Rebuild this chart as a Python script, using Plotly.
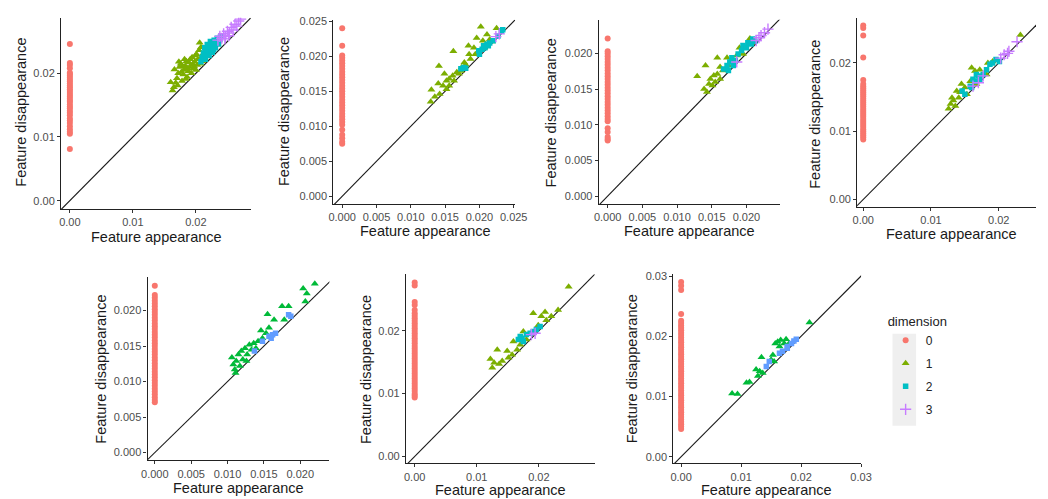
import plotly.graph_objects as go

W, H = 1048, 499

# ---------------- data ----------------
# Panel 1
p1_d0_death = [0.0081, 0.0105, 0.0108, 0.0112, 0.0117, 0.0122, 0.0126, 0.0129, 0.0134, 0.0138,
               0.0141, 0.0145, 0.0148, 0.0151, 0.0155, 0.0157, 0.0160, 0.0163, 0.0166, 0.0169,
               0.0172, 0.0175, 0.0178, 0.0181, 0.0184, 0.0187, 0.0190, 0.0193, 0.0196, 0.0199,
               0.0201, 0.0208, 0.0213, 0.0216, 0.0246]
p1_d1_birth = [0.0165, 0.0168, 0.0170, 0.0172, 0.0174, 0.0176, 0.0178, 0.0180, 0.0181, 0.0183,
               0.0185, 0.0186, 0.0188, 0.0190, 0.0191, 0.0193, 0.0195, 0.0196, 0.0198, 0.0199,
               0.0200, 0.0202, 0.0203, 0.0205, 0.0206, 0.0207, 0.0209, 0.0210, 0.0212, 0.0214,
               0.0171, 0.0177, 0.0184, 0.0189, 0.0194, 0.0201, 0.0163, 0.0187, 0.0197, 0.0208,
               0.0160, 0.0166, 0.0173, 0.0179, 0.0182]
p1_d1_death = [0.0178, 0.0185, 0.0192, 0.0200, 0.0210, 0.0215, 0.0188, 0.0198, 0.0205, 0.0212,
               0.0219, 0.0194, 0.0203, 0.0210, 0.0222, 0.0200, 0.0214, 0.0207, 0.0218, 0.0228,
               0.0205, 0.0213, 0.0222, 0.0236, 0.0248, 0.0215, 0.0226, 0.0219, 0.0231, 0.0224,
               0.0181, 0.0202, 0.0191, 0.0217, 0.0225, 0.0230, 0.0173, 0.0208, 0.0211, 0.0241,
               0.0186, 0.0206, 0.0218, 0.0211, 0.0222]
p1_d2_birth = [0.0208, 0.0210, 0.0212, 0.0214, 0.0215, 0.0217, 0.0218, 0.0220, 0.0221, 0.0223,
               0.0224, 0.0226, 0.0227, 0.0229, 0.0231, 0.0232, 0.0234, 0.0236, 0.0238, 0.0240,
               0.0216, 0.0222, 0.0228, 0.0235]
p1_d2_death = [0.0218, 0.0225, 0.0232, 0.0240, 0.0222, 0.0230, 0.0245, 0.0236, 0.0228, 0.0250,
               0.0240, 0.0233, 0.0246, 0.0252, 0.0240, 0.0248, 0.0255, 0.0246, 0.0253, 0.0258,
               0.0236, 0.0243, 0.0237, 0.0250]
p1_d3_birth = [0.0235, 0.0238, 0.0241, 0.0244, 0.0247, 0.0250, 0.0253, 0.0256, 0.0259, 0.0262,
               0.0265, 0.0268, 0.0271, 0.0246, 0.0252]
p1_d3_death = [0.0252, 0.0258, 0.0255, 0.0262, 0.0258, 0.0266, 0.0263, 0.0272, 0.0268, 0.0277,
               0.0274, 0.0282, 0.0285, 0.0254, 0.0259]

# Panel 2
p2_d0_death = [0.0075, 0.0078, 0.0083, 0.0088, 0.0095, 0.0102, 0.0106, 0.0110, 0.0114, 0.0118,
               0.0122, 0.0126, 0.0130, 0.0134, 0.0138, 0.0142, 0.0146, 0.0150, 0.0154, 0.0158,
               0.0162, 0.0166, 0.0170, 0.0174, 0.0178, 0.0182, 0.0186, 0.0190, 0.0194, 0.0198,
               0.0201, 0.0215, 0.0240]
p2_d1_birth = [0.0129, 0.0130, 0.0140, 0.0142, 0.0141, 0.0135, 0.0147, 0.0152, 0.0156, 0.0161,
               0.0149, 0.0163, 0.0167, 0.0170, 0.0162, 0.0174, 0.0178, 0.0184, 0.0185, 0.0187,
               0.0192, 0.0194, 0.0196, 0.0202, 0.0205, 0.0207, 0.0211, 0.0215, 0.0218, 0.0225,
               0.0156, 0.0152, 0.0173, 0.0180]
p2_d1_death = [0.0135, 0.0152, 0.0161, 0.0146, 0.0186, 0.0142, 0.0158, 0.0165, 0.0168, 0.0172,
               0.0175, 0.0165, 0.0177, 0.0175, 0.0207, 0.0184, 0.0191, 0.0215, 0.0203, 0.0196,
               0.0212, 0.0203, 0.0226, 0.0242, 0.0222, 0.0212, 0.0231, 0.0224, 0.0221, 0.0240,
               0.0158, 0.0153, 0.0179, 0.0188]
p2_d2_birth = [0.0173, 0.0177, 0.0180, 0.0199, 0.0204, 0.0206, 0.0211, 0.0213, 0.0215, 0.0220,
               0.0227, 0.0232, 0.0234, 0.0200, 0.0208]
p2_d2_death = [0.0182, 0.0184, 0.0183, 0.0208, 0.0210, 0.0215, 0.0217, 0.0215, 0.0219, 0.0222,
               0.0229, 0.0236, 0.0238, 0.0203, 0.0212]
p2_d3_birth = [0.0224, 0.0229]
p2_d3_death = [0.0228, 0.0232]

# Panel 3
p3_d0_death = [0.0078, 0.0080, 0.0083, 0.0090, 0.0095, 0.0105, 0.0108, 0.0112, 0.0116, 0.0120,
               0.0124, 0.0128, 0.0132, 0.0136, 0.0140, 0.0144, 0.0148, 0.0152, 0.0156, 0.0160,
               0.0164, 0.0168, 0.0172, 0.0176, 0.0180, 0.0184, 0.0188, 0.0192, 0.0196, 0.0200,
               0.0203, 0.0221]
p3_d1_birth = [0.0129, 0.0141, 0.0139, 0.0143, 0.0146, 0.0148, 0.0153, 0.0155, 0.0158, 0.0162,
               0.0166, 0.0158, 0.0172, 0.0174, 0.0179, 0.0186, 0.0190, 0.0195, 0.0205, 0.0207,
               0.0151, 0.0162]
p3_d1_death = [0.0168, 0.0183, 0.0150, 0.0146, 0.0157, 0.0164, 0.0169, 0.0160, 0.0171, 0.0164,
               0.0176, 0.0194, 0.0194, 0.0183, 0.0188, 0.0197, 0.0208, 0.0199, 0.0221, 0.0215,
               0.0155, 0.0181]
p3_d2_birth = [0.0167, 0.0172, 0.0176, 0.0179, 0.0184, 0.0188, 0.0193, 0.0195, 0.0200, 0.0202,
               0.0207, 0.0209, 0.0212, 0.0181, 0.0174]
p3_d2_death = [0.0178, 0.0183, 0.0188, 0.0194, 0.0190, 0.0199, 0.0204, 0.0211, 0.0208, 0.0215,
               0.0213, 0.0220, 0.0217, 0.0183, 0.0176]
p3_d3_birth = [0.0186, 0.0214, 0.0221, 0.0226, 0.0231, 0.0218]
p3_d3_death = [0.0188, 0.0218, 0.0225, 0.0229, 0.0234, 0.0222]

# Panel 4
p4_d0_death = [0.0088, 0.0091, 0.0094, 0.0097, 0.0100, 0.0103, 0.0106, 0.0109, 0.0112, 0.0115,
               0.0118, 0.0121, 0.0124, 0.0127, 0.0130, 0.0133, 0.0136, 0.0139, 0.0142, 0.0145,
               0.0148, 0.0151, 0.0154, 0.0157, 0.0160, 0.0163, 0.0166, 0.0169, 0.0175, 0.0208,
               0.0240, 0.0251, 0.0255]
p4_d1_birth = [0.0126, 0.0129, 0.0133, 0.0136, 0.0141, 0.0143, 0.0145, 0.0150, 0.0153, 0.0158,
               0.0160, 0.0165, 0.0167, 0.0172, 0.0182, 0.0184, 0.0191, 0.0232, 0.0131, 0.0138]
p4_d1_death = [0.0133, 0.0140, 0.0145, 0.0137, 0.0149, 0.0157, 0.0169, 0.0164, 0.0154, 0.0173,
               0.0193, 0.0188, 0.0169, 0.0190, 0.0183, 0.0200, 0.0202, 0.0241, 0.0149, 0.0159]
p4_d2_birth = [0.0146, 0.0150, 0.0158, 0.0162, 0.0165, 0.0170, 0.0172, 0.0177, 0.0182, 0.0187,
               0.0191, 0.0196, 0.0201, 0.0160, 0.0167]
p4_d2_death = [0.0159, 0.0154, 0.0166, 0.0176, 0.0173, 0.0181, 0.0176, 0.0183, 0.0190, 0.0198,
               0.0200, 0.0205, 0.0202, 0.0164, 0.0183]
p4_d3_birth = [0.0162, 0.0170, 0.0177, 0.0203, 0.0208, 0.0213, 0.0215, 0.0227]
p4_d3_death = [0.0166, 0.0171, 0.0181, 0.0207, 0.0212, 0.0214, 0.0217, 0.0231]

# Panel 5 (three dimensions)
p5_d0_death = [0.0071, 0.0074, 0.0078, 0.0082, 0.0086, 0.0090, 0.0094, 0.0098, 0.0102, 0.0106,
               0.0110, 0.0114, 0.0118, 0.0122, 0.0126, 0.0130, 0.0134, 0.0138, 0.0142, 0.0146,
               0.0150, 0.0154, 0.0158, 0.0162, 0.0166, 0.0170, 0.0174, 0.0178, 0.0182, 0.0186,
               0.0190, 0.0194, 0.0198, 0.0202, 0.0206, 0.0210, 0.0214, 0.0218, 0.0222, 0.0235]
p5_d1_birth = [0.0106, 0.0108, 0.0110, 0.0112, 0.0115, 0.0117, 0.0119, 0.0121, 0.0124, 0.0127,
               0.0130, 0.0133, 0.0136, 0.0139, 0.0142, 0.0146, 0.0148, 0.0153, 0.0155, 0.0157,
               0.0164, 0.0175, 0.0184, 0.0178, 0.0204, 0.0207, 0.0220, 0.0209, 0.0111, 0.0126]
p5_d1_death = [0.0134, 0.0124, 0.0117, 0.0129, 0.0138, 0.0122, 0.0143, 0.0131, 0.0147, 0.0138,
               0.0152, 0.0145, 0.0154, 0.0147, 0.0157, 0.0172, 0.0161, 0.0168, 0.0195, 0.0176,
               0.0187, 0.0206, 0.0206, 0.0187, 0.0231, 0.0213, 0.0238, 0.0224, 0.0112, 0.0129]
p5_d2_birth = [0.0137, 0.0148, 0.0157, 0.0162, 0.0166, 0.0184, 0.0187, 0.0160]
p5_d2_death = [0.0143, 0.0157, 0.0164, 0.0166, 0.0168, 0.0194, 0.0192, 0.0161]

# Panel 6
p6_d0_death = [0.0094, 0.0097, 0.0100, 0.0104, 0.0108, 0.0112, 0.0116, 0.0120, 0.0124, 0.0128,
               0.0132, 0.0136, 0.0140, 0.0144, 0.0148, 0.0152, 0.0156, 0.0160, 0.0164, 0.0168,
               0.0172, 0.0176, 0.0180, 0.0184, 0.0188, 0.0192, 0.0196, 0.0200, 0.0204, 0.0208,
               0.0212, 0.0216, 0.0220, 0.0224, 0.0228, 0.0233, 0.0241, 0.0246, 0.0272, 0.0277]
p6_d1_birth = [0.0122, 0.0125, 0.0133, 0.0136, 0.0141, 0.0149, 0.0151, 0.0157, 0.0159, 0.0165,
               0.0170, 0.0175, 0.0180, 0.0191, 0.0199, 0.0204, 0.0210, 0.0212, 0.0220, 0.0231,
               0.0248, 0.0128]
p6_d1_death = [0.0155, 0.0141, 0.0170, 0.0147, 0.0152, 0.0168, 0.0157, 0.0162, 0.0183, 0.0170,
               0.0178, 0.0199, 0.0186, 0.0228, 0.0209, 0.0223, 0.0230, 0.0217, 0.0223, 0.0233,
               0.0270, 0.0149]
p6_d2_birth = [0.0167, 0.0170, 0.0175, 0.0180, 0.0186, 0.0191, 0.0196, 0.0202, 0.0173]
p6_d2_death = [0.0186, 0.0191, 0.0183, 0.0194, 0.0196, 0.0199, 0.0202, 0.0207, 0.0188]
p6_d3_birth = [0.0194, 0.0188]
p6_d3_death = [0.0196, 0.0194]

# Panel 7 (three dimensions)
p7_d0_death = [0.0046, 0.0050, 0.0054, 0.0058, 0.0062, 0.0066, 0.0070, 0.0074, 0.0078, 0.0082,
               0.0086, 0.0090, 0.0094, 0.0098, 0.0102, 0.0106, 0.0110, 0.0114, 0.0118, 0.0122,
               0.0126, 0.0130, 0.0134, 0.0138, 0.0142, 0.0146, 0.0150, 0.0154, 0.0158, 0.0162,
               0.0166, 0.0170, 0.0174, 0.0178, 0.0182, 0.0186, 0.0190, 0.0194, 0.0198, 0.0202,
               0.0206, 0.0210, 0.0214, 0.0218, 0.0222, 0.0226, 0.0237, 0.0277, 0.0284, 0.0290]
p7_d1_birth = [0.0085, 0.0094, 0.0109, 0.0114, 0.0125, 0.0128, 0.0134, 0.0131, 0.0136, 0.0150,
               0.0153, 0.0157, 0.0161, 0.0164, 0.0166, 0.0172, 0.0175, 0.0180, 0.0214, 0.0155]
p7_d1_death = [0.0105, 0.0104, 0.0123, 0.0124, 0.0145, 0.0134, 0.0165, 0.0142, 0.0139, 0.0161,
               0.0169, 0.0188, 0.0191, 0.0183, 0.0194, 0.0188, 0.0195, 0.0188, 0.0223, 0.0158]
p7_d2_birth = [0.0142, 0.0147, 0.0164, 0.0169, 0.0177, 0.0184, 0.0192, 0.0188, 0.0177]
p7_d2_death = [0.0150, 0.0158, 0.0172, 0.0175, 0.0183, 0.0188, 0.0195, 0.0192, 0.0180]

# Tick labels
ticks_2dp_02 = ["0.00", "0.01", "0.02"]
ticks_2dp_03 = ["0.00", "0.01", "0.02", "0.03"]
ticks_3dp_020 = ["0.000", "0.005", "0.010", "0.015", "0.020"]
ticks_3dp_025 = ["0.000", "0.005", "0.010", "0.015", "0.020", "0.025"]

dimension_labels = ["0", "1", "2", "3"]

# ---------------- styling ----------------
PAL4 = ["#F8766D", "#7CAE00", "#00BFC4", "#C77CFF"]
PAL3 = ["#F8766D", "#00BA38", "#619CFF"]
SYMS = ["circle", "triangle-up", "square", "cross-thin-open"]
SIZES = [6, 7, 5.5, 8]

panels = [
    dict(dims=[(None, p1_d0_death), (p1_d1_birth, p1_d1_death), (p1_d2_birth, p1_d2_death), (p1_d3_birth, p1_d3_death)],
         pal=PAL4, xt=ticks_2dp_02, yt=ticks_2dp_02,
         box=(56, 249, 13, 206), xr=(-0.0014, 0.0287), yr=(-0.0013, 0.0287),
         xtitle=(153, 234), ytitle=(15, 108)),
    dict(dims=[(None, p2_d0_death), (p2_d1_birth, p2_d1_death), (p2_d2_birth, p2_d2_death), (p2_d3_birth, p2_d3_death)],
         pal=PAL4, xt=ticks_3dp_025, yt=ticks_3dp_025,
         box=(333, 518, 15, 201), xr=(-0.0013, 0.0252), yr=(-0.0011, 0.0252),
         xtitle=(427, 228), ytitle=(283, 108)),
    dict(dims=[(None, p3_d0_death), (p3_d1_birth, p3_d1_death), (p3_d2_birth, p3_d2_death), (p3_d3_birth, p3_d3_death)],
         pal=PAL4, xt=ticks_3dp_020, yt=ticks_3dp_020,
         box=(603, 788, 15, 201), xr=(-0.0013, 0.0249), yr=(-0.0011, 0.0247),
         xtitle=(695, 228), ytitle=(554, 109)),
    dict(dims=[(None, p4_d0_death), (p4_d1_birth, p4_d1_death), (p4_d2_birth, p4_d2_death), (p4_d3_birth, p4_d3_death)],
         pal=PAL4, xt=ticks_2dp_02, yt=ticks_2dp_02,
         box=(866, 1048, 13, 204), xr=(-0.0009, 0.0255), yr=(-0.0011, 0.0266),
         xtitle=(962, 231), ytitle=(823, 110)),
    dict(dims=[(None, p5_d0_death), (p5_d1_birth, p5_d1_death), (p5_d2_birth, p5_d2_death)],
         pal=PAL3, xt=ticks_3dp_020, yt=ticks_3dp_020,
         box=(144, 329, 275, 460), xr=(-0.0010, 0.0240), yr=(-0.0011, 0.0247),
         xtitle=(237, 488), ytitle=(97, 368)),
    dict(dims=[(None, p6_d0_death), (p6_d1_birth, p6_d1_death), (p6_d2_birth, p6_d2_death), (p6_d3_birth, p6_d3_death)],
         pal=PAL4, xt=ticks_2dp_02, yt=ticks_2dp_02,
         box=(407, 599, 272, 463), xr=(-0.0014, 0.0290), yr=(-0.0011, 0.0290),
         xtitle=(503, 490), ytitle=(367, 368)),
    dict(dims=[(None, p7_d0_death), (p7_d1_birth, p7_d1_death), (p7_d2_birth, p7_d2_death)],
         pal=PAL3, xt=ticks_2dp_03, yt=ticks_2dp_03,
         box=(679, 870, 272, 463), xr=(-0.0013, 0.0300), yr=(-0.0011, 0.0303),
         xtitle=(774, 490), ytitle=(637, 368)),
]

FONT = "Liberation Sans, Arial, sans-serif"
fig = go.Figure()
layout = dict(width=W, height=H, margin=dict(l=0, r=0, t=0, b=0),
              paper_bgcolor="white", plot_bgcolor="white",
              font=dict(family=FONT, color="#222"), annotations=[], shapes=[])

legend_done = set()
for i, p in enumerate(panels):
    n = "" if i == 0 else str(i + 1)
    xa, ya = "x" + n, "y" + n
    # diagonal reference line across the panel
    lo = min(p["xr"][0], p["yr"][0])
    hi = max(p["xr"][1], p["yr"][1])
    fig.add_trace(go.Scatter(x=[lo, hi], y=[lo, hi], mode="lines", xaxis=xa, yaxis=ya,
                             line=dict(color="#1a1a1a", width=1.1), showlegend=False, hoverinfo="skip"))
    for d, (births, deaths) in enumerate(p["dims"]):
        if births is None:
            births = [0.0] * len(deaths)
        show = (p["pal"] is PAL4) and d not in legend_done
        if show:
            legend_done.add(d)
        col = p["pal"][d]
        marker = dict(color=col, size=SIZES[d], symbol=SYMS[d], line=dict(width=0))
        if d == 3:
            marker["line"] = dict(width=1.4, color=col)
        fig.add_trace(go.Scatter(x=births, y=deaths, mode="markers", xaxis=xa, yaxis=ya,
                                 marker=marker, name=dimension_labels[d], showlegend=show,
                                 legendgroup=dimension_labels[d], legendrank=d))
    x0, x1, y0, y1 = p["box"]
    common = dict(showgrid=False, zeroline=False, showline=True, linecolor="#222", linewidth=1.1,
                  ticks="outside", ticklen=3, tickcolor="#333", tickwidth=1,
                  tickfont=dict(family=FONT, size=11, color="#4D4D4D"))
    layout["xaxis" + n] = dict(domain=[x0 / W, x1 / W], anchor=ya, range=list(p["xr"]),
                               tickvals=[float(t) for t in p["xt"]], ticktext=p["xt"], **common)
    layout["yaxis" + n] = dict(domain=[1 - y1 / H, 1 - y0 / H], anchor=xa, range=list(p["yr"]),
                               tickvals=[float(t) for t in p["yt"]], ticktext=p["yt"], **common)
    tx, ty = p["xtitle"]
    layout["annotations"].append(dict(text="Feature appearance", xref="paper", yref="paper",
                                      x=tx / W, y=1 - ty / H, xanchor="center", yanchor="middle",
                                      showarrow=False, font=dict(family=FONT, size=14.5, color="#1a1a1a")))
    tx, ty = p["ytitle"]
    layout["annotations"].append(dict(text="Feature disappearance", xref="paper", yref="paper",
                                      x=tx / W, y=1 - ty / H, xanchor="center", yanchor="middle",
                                      textangle=-90, showarrow=False,
                                      font=dict(family=FONT, size=14.5, color="#1a1a1a")))

# legend key background
layout["shapes"].append(dict(type="rect", xref="paper", yref="paper", x0=902 / W, x1=926 / W,
                             y0=1 - 425 / H, y1=1 - 332 / H, fillcolor="#EFEFEF", line=dict(width=0),
                             layer="below"))
layout["legend"] = dict(x=895 / W, y=1 - 307 / H, xanchor="left", yanchor="top",
                        bgcolor="rgba(0,0,0,0)", borderwidth=0,
                        title=dict(text="dimension", font=dict(family=FONT, size=13, color="#222")),
                        font=dict(family=FONT, size=12, color="#222"),
                        traceorder="grouped", tracegroupgap=4, itemwidth=30)
fig.update_layout(**layout)
fig.write_html("out.html", config={"displayModeBar": False},
               post_script="document.body.style.margin='0px';document.body.style.overflow='hidden';")
